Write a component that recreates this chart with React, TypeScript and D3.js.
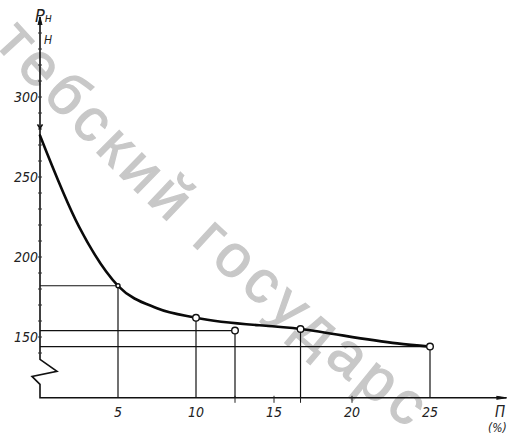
import React from "react";
import * as d3 from "d3";

// curve samples: porosity П (%) vs load Pн (Н)
const curvePct = [0, 2.5, 5, 7.5, 10, 16.7, 22.9, 25];
const curveLoad = [276, 219, 182, 168, 162, 155, 146, 144];

// marked measurement points
const markPct = [5, 10, 12.5, 16.7, 25];
const markLoad = [182, 162, 154, 155, 144];
// points that get a horizontal guide back to the y axis
const guidePct = [5, 12.5, 25];
// small tick on the y axis at 0 %
const zeroMarkLoad = 281;

const xTicks = [5, 10, 15, 20, 25];
const yTicks = [150, 200, 250, 300];
const yMinor = d3.range(140, 341, 10);

const watermark = "тебский государс";

const W = 516;
const H = 437;

const x = d3.scaleLinear().domain([0, 25]).range([40, 430]);
const y = d3.scaleLinear().domain([150, 300]).range([337, 97]);

const labelFont = "'Liberation Sans Narrow', 'DejaVu Sans Condensed', 'Liberation Sans', sans-serif";

export default function App() {
  const x0 = x(0);
  const yTop = y(350);
  const yBreak = y(136);
  const yBase = y(112);
  const xEnd = x(29.9);

  const curve = d3
    .line<number>()
    .x((d) => x(curvePct[d]))
    .y((d) => y(curveLoad[d]))
    .curve(d3.curveMonotoneX)(d3.range(curvePct.length));

  // axis with the break symbol near the bottom
  const axisPath =
    `M${x0},${yTop} L${x0},${yBreak} ` +
    `L${x0 + 17},${yBreak + 12} L${x0 - 8},${yBreak + 17} L${x0},${yBreak + 25} ` +
    `L${x0},${yBase} L${xEnd},${yBase}`;

  const ym = y(zeroMarkLoad);

  return (
    <svg
      width={W}
      height={H}
      style={{ position: "absolute", left: 0, top: 0, background: "#fff" }}
    >
      <rect width={W} height={H} fill="#fff" />

      {/* watermark stamp, under the drawing */}
      <defs>
        <path id="wm" d="M-7,43 Q180,251 426,443" fill="none" />
      </defs>
      <text
        fontFamily="'Liberation Sans', Arial, sans-serif"
        fontSize={60}
        fill="#c8c8c8"
        stroke="#c8c8c8"
        strokeWidth={1.2}
        letterSpacing={6}
      >
        <textPath href="#wm">{watermark}</textPath>
      </text>

      {/* axes */}
      <path d={axisPath} fill="none" stroke="#111" strokeWidth={1.6} />
      <path d={`M${x0 - 2},${yTop + 8} L${x0},${yTop} L${x0 + 2},${yTop + 8}`} fill="#111" stroke="#111" />
      <path d={`M${xEnd - 10},${yBase - 1.5} L${xEnd},${yBase} L${xEnd - 10},${yBase + 1.5}`} fill="#111" stroke="#111" />

      {yMinor.map((v) => (
        <line key={v} x1={x0 - 2} x2={x0 + 2} y1={y(v)} y2={y(v)} stroke="#333" strokeWidth={1} />
      ))}
      {[12.5, 15, 16.7, 20].map((v) => (
        <line key={v} x1={x(v)} x2={x(v)} y1={yBase - 2} y2={yBase + 5} stroke="#222" strokeWidth={1} />
      ))}

      {/* guide lines */}
      {markPct.map((p, i) => (
        <line
          key={`v${p}`}
          x1={x(p)}
          x2={x(p)}
          y1={y(markLoad[i])}
          y2={yBase}
          stroke="#111"
          strokeWidth={1.2}
        />
      ))}
      {guidePct.map((p) => {
        const i = markPct.indexOf(p);
        return (
          <line
            key={`h${p}`}
            x1={x0}
            x2={x(p)}
            y1={y(markLoad[i])}
            y2={y(markLoad[i])}
            stroke="#111"
            strokeWidth={1.1}
          />
        );
      })}

      {/* the curve */}
      <path d={curve ?? ""} fill="none" stroke="#0a0a0a" strokeWidth={2.6} strokeLinecap="round" />
      <path
        d={`M${x0 - 2.5},${ym - 3} L${x0},${ym + 1} L${x0 + 2.5},${ym - 3}`}
        fill="none"
        stroke="#111"
        strokeWidth={1.6}
      />

      {markPct.map((p, i) => (
        <circle
          key={`c${p}`}
          cx={x(p)}
          cy={y(markLoad[i])}
          r={p === 5 ? 2 : 3.3}
          fill="#fff"
          stroke="#111"
          strokeWidth={1.4}
        />
      ))}

      {/* tick labels */}
      {yTicks.map((v) => (
        <text
          key={v}
          x={x0 - 2}
          y={y(v) + 5}
          textAnchor="end"
          fontFamily={labelFont}
          fontStyle="italic"
          fontSize={14}
          fill="#222"
        >
          {v}
        </text>
      ))}
      {xTicks.map((v) => (
        <text
          key={v}
          x={x(v)}
          y={yBase + 19}
          textAnchor="middle"
          fontFamily={labelFont}
          fontStyle="italic"
          fontSize={14}
          fill="#222"
        >
          {v}
        </text>
      ))}

      {/* axis titles */}
      <text x={35} y={22} fontFamily={labelFont} fontStyle="italic" fontSize={18} fill="#222">
        Р<tspan fontSize={12}>н</tspan>
      </text>
      <text x={44} y={44} fontFamily={labelFont} fontStyle="italic" fontSize={12} fill="#222">
        Н
      </text>
      <text x={495} y={417} fontFamily={labelFont} fontStyle="italic" fontSize={15} fill="#222">
        П
      </text>
      <text x={488} y={432} fontFamily={labelFont} fontStyle="italic" fontSize={12} fill="#222">
        (%)
      </text>
    </svg>
  );
}
